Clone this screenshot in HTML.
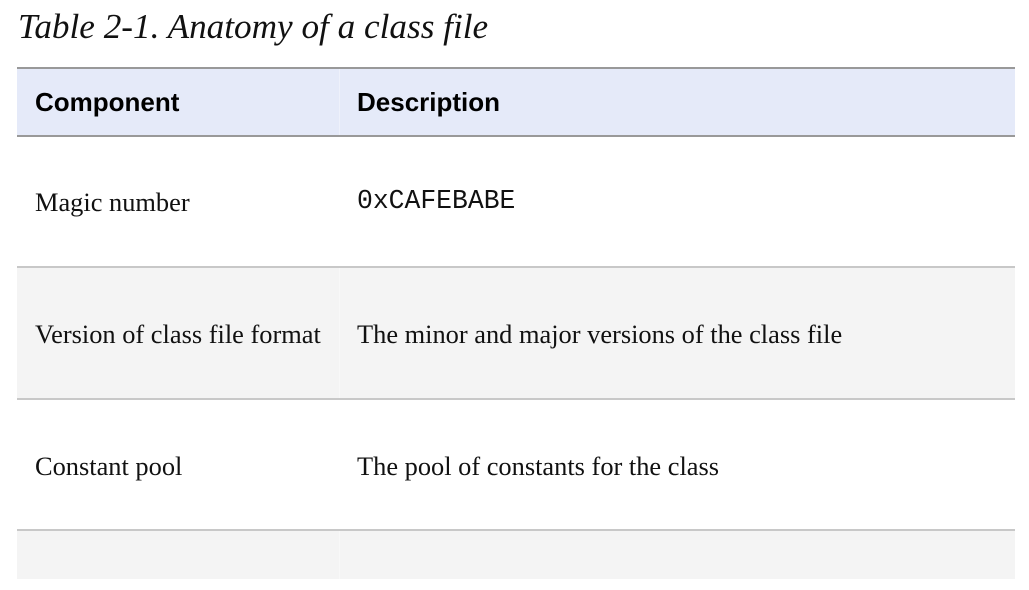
<!DOCTYPE html>
<html><head><style>
body{margin:0;width:1029px;height:590px;background:#fff;position:relative;overflow:hidden}
.a{position:absolute}
.t{font-family:"Liberation Serif",serif;font-size:26.4px;color:#111;white-space:nowrap}
.h{font-family:"Liberation Sans",sans-serif;font-weight:bold;font-size:26px;color:#000;white-space:nowrap}
</style></head><body>
<div class="a" style="left:18px;top:7px;font-family:'Liberation Serif',serif;font-style:italic;font-size:35.2px;color:#111;white-space:nowrap">Table 2-1. Anatomy of a class file</div>
<div class="a" style="left:17px;top:67px;width:998px;height:2px;background:#999"></div>
<div class="a" style="left:17px;top:69px;width:998px;height:66px;background:#e5eaf9"></div>
<div class="a" style="left:17px;top:135px;width:998px;height:2px;background:#999"></div>
<div class="a" style="left:17px;top:266px;width:998px;height:2px;background:#c8c8c8"></div>
<div class="a" style="left:17px;top:268px;width:998px;height:130px;background:#f4f4f4"></div>
<div class="a" style="left:17px;top:398px;width:998px;height:2px;background:#c8c8c8"></div>
<div class="a" style="left:17px;top:529px;width:998px;height:2px;background:#c8c8c8"></div>
<div class="a" style="left:17px;top:531px;width:998px;height:48px;background:#f4f4f4"></div>
<div class="a" style="left:339px;top:69px;width:1px;height:66px;background:#eef1fb"></div>
<div class="a" style="left:339px;top:268px;width:1px;height:130px;background:#f8f8f8"></div>
<div class="a" style="left:339px;top:531px;width:1px;height:48px;background:#f8f8f8"></div>
<div class="a h" style="left:35px;top:87px">Component</div>
<div class="a h" style="left:357px;top:87px">Description</div>
<div class="a t" style="left:35px;top:187px">Magic number</div>
<div class="a" style="left:357px;top:186px;font-family:'Liberation Mono',monospace;font-size:26.4px;color:#111">0xCAFEBABE</div>
<div class="a t" style="left:35px;top:319px">Version of class file format</div>
<div class="a t" style="left:357px;top:319px">The minor and major versions of the class file</div>
<div class="a t" style="left:35px;top:451px">Constant pool</div>
<div class="a t" style="left:357px;top:451px">The pool of constants for the class</div>
</body></html>
